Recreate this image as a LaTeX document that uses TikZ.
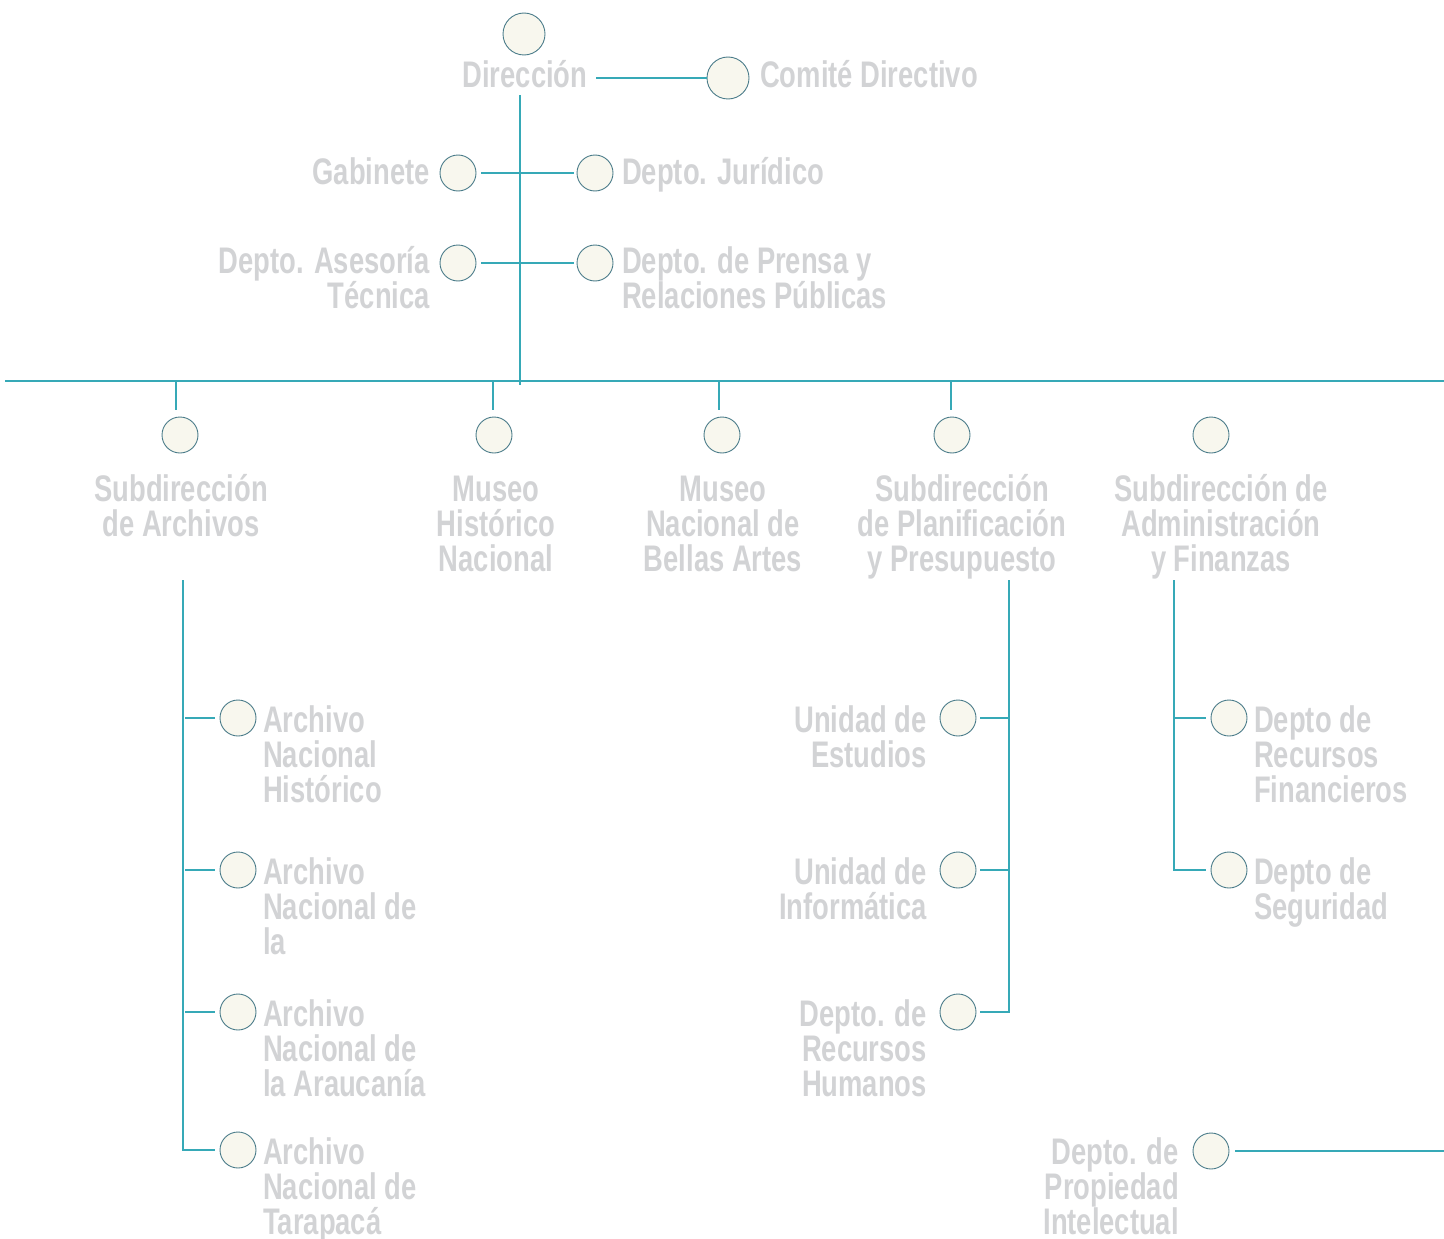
\documentclass[tikz,border=0pt]{standalone}
\usepackage{fontspec}
\newfontfamily\lblfont{Liberation Sans}[FakeStretch=0.74]
\definecolor{txtgray}{HTML}{D2D3D5}
\definecolor{dotfill}{HTML}{F8F7EE}
\definecolor{dotline}{HTML}{4B7C8A}
\definecolor{teal}{HTML}{36A9B7}
\newcommand\LT[1]{\vtop{\baselineskip=35pt\lineskiplimit=-60pt\lineskip=0pt\let\\\cr\halign{##\hfil\cr#1\cr}}}
\newcommand\RT[1]{\vtop{\baselineskip=35pt\lineskiplimit=-60pt\lineskip=0pt\let\\\cr\halign{\hfil##\cr#1\cr}}}
\newcommand\CT[1]{\vtop{\baselineskip=35pt\lineskiplimit=-60pt\lineskip=0pt\let\\\cr\halign{\hfil##\hfil\cr#1\cr}}}
\begin{document}
\begin{tikzpicture}[x=1pt,y=-1pt,
  dot/.style={circle,draw=dotline,fill=dotfill,line width=0.9pt,minimum size=36pt,inner sep=0pt},
  bigdot/.style={dot,minimum size=42pt},
  lbl/.style={text=txtgray,inner sep=0pt,font=\lblfont\bfseries\fontsize{37}{35}\selectfont},
  lblL/.style={lbl,anchor=base west},
  lblR/.style={lbl,anchor=base east},
  lblC/.style={lbl,anchor=base},
  conn/.style={draw=teal,line width=1.3pt}]
\path[use as bounding box] (0,0) rectangle (1444,1239);

% top level
\node[bigdot] (dir) at (524,34) {};
\node[lblC] (dirlbl) at (525,88) {Dirección};
\node[bigdot] (com) at (728,78) {};
\node[lblL] (comlbl) at (760,88) {Comité Directivo};

\node[dot] (gab) at (458,173) {};
\node[lblR] (gablbl) at (430,184) {Gabinete};
\node[dot] (jur) at (595,173) {};
\node[lblL] (jurlbl) at (622,184) {Depto. Jurídico};
\node[dot] (ase) at (458,263) {};
\node[lblR] (aselbl) at (430,273) {\RT{Depto. Asesoría\\Técnica}};
\node[dot] (pre) at (595,263) {};
\node[lblL] (prelbl) at (622,273) {\LT{Depto. de Prensa y\\Relaciones Públicas}};

\coordinate (vtop) at (520,95);
\coordinate (vbot) at (520,385);
\coordinate (busL) at (5,381);
\coordinate (busR) at (1444,381);

% second level
\node[dot] (sa) at (180,435) {};
\node[lblC] (salbl) at (181,501) {\CT{Subdirección\\de Archivos}};
\node[dot] (mh) at (494,435) {};
\node[lblC] (mhlbl) at (496,501) {\CT{Museo\\Histórico\\Nacional}};
\node[dot] (mb) at (722,435) {};
\node[lblC] (mblbl) at (723,501) {\CT{Museo\\Nacional de\\Bellas Artes}};
\node[dot] (sp) at (952,435) {};
\node[lblC] (splbl) at (962,501) {\CT{Subdirección\\de Planificación\\y Presupuesto}};
\node[dot] (sf) at (1211,435) {};
\node[lblC] (sflbl) at (1221,501) {\CT{Subdirección de\\Administración\\y Finanzas}};

% archivos
\node[dot] (a1) at (238,718) {};
\node[lblL] (a1lbl) at (263,732) {\LT{Archivo\\Nacional\\Histórico}};
\node[dot] (a2) at (238,870) {};
\node[lblL] (a2lbl) at (263,884) {\LT{Archivo\\Nacional de\\la}};
\node[dot] (a3) at (238,1012) {};
\node[lblL] (a3lbl) at (263,1026) {\LT{Archivo\\Nacional de\\la Araucanía}};
\node[dot] (a4) at (238,1150) {};
\node[lblL] (a4lbl) at (263,1164) {\LT{Archivo\\Nacional de\\Tarapacá}};

% planificacion
\node[dot] (u1) at (958,718) {};
\node[lblR] (u1lbl) at (927,732) {\RT{Unidad de\\Estudios}};
\node[dot] (u2) at (958,870) {};
\node[lblR] (u2lbl) at (927,884) {\RT{Unidad de\\Informática}};
\node[dot] (u3) at (958,1012) {};
\node[lblR] (u3lbl) at (927,1026) {\RT{Depto. de\\Recursos\\Humanos}};

% administracion
\node[dot] (f1) at (1229,718) {};
\node[lblL] (f1lbl) at (1254,732) {\LT{Depto de\\Recursos\\Financieros}};
\node[dot] (f2) at (1229,870) {};
\node[lblL] (f2lbl) at (1254,884) {\LT{Depto de\\Seguridad}};

% propiedad
\node[dot] (pi) at (1211,1151) {};
\node[lblR] (pilbl) at (1179,1164) {\RT{Depto. de\\Propiedad\\Intelectual}};
\coordinate (piend) at (1444,1151);

% connectors
\draw[conn] (com.west) -- ++(-111,0);
\draw[conn] (vtop) -- (vbot);
\draw[conn] ([xshift=5pt]gab.east) -- ([xshift=-3pt]jur.west);
\draw[conn] ([xshift=5pt]ase.east) -- ([xshift=-3pt]pre.west);
\draw[conn] (busL) -- (busR);
\draw[conn] (sa.north -| 176,0) ++(0,-7) -- (176,381);
\draw[conn] (mh.north -| 493,0) ++(0,-7) -- (493,381);
\draw[conn] (mb.north -| 719,0) ++(0,-7) -- (719,381);
\draw[conn] (sp.north -| 951,0) ++(0,-7) -- (951,381);

\draw[conn] (183,580) |- ([xshift=-5pt]a4.west);
\draw[conn] ([xshift=-5pt]a1.west) -- (185,718);
\draw[conn] ([xshift=-5pt]a2.west) -- (185,870);
\draw[conn] ([xshift=-5pt]a3.west) -- (185,1012);

\draw[conn] (1009,580) |- ([xshift=4pt]u3.east);
\draw[conn] ([xshift=4pt]u1.east) -- (1009,718);
\draw[conn] ([xshift=4pt]u2.east) -- (1009,870);

\draw[conn] (1174,580) |- ([xshift=-5pt]f2.west);
\draw[conn] ([xshift=-5pt]f1.west) -- (1174,718);

\draw[conn] ([xshift=6pt]pi.east) -- (piend);
\end{tikzpicture}
\end{document}
